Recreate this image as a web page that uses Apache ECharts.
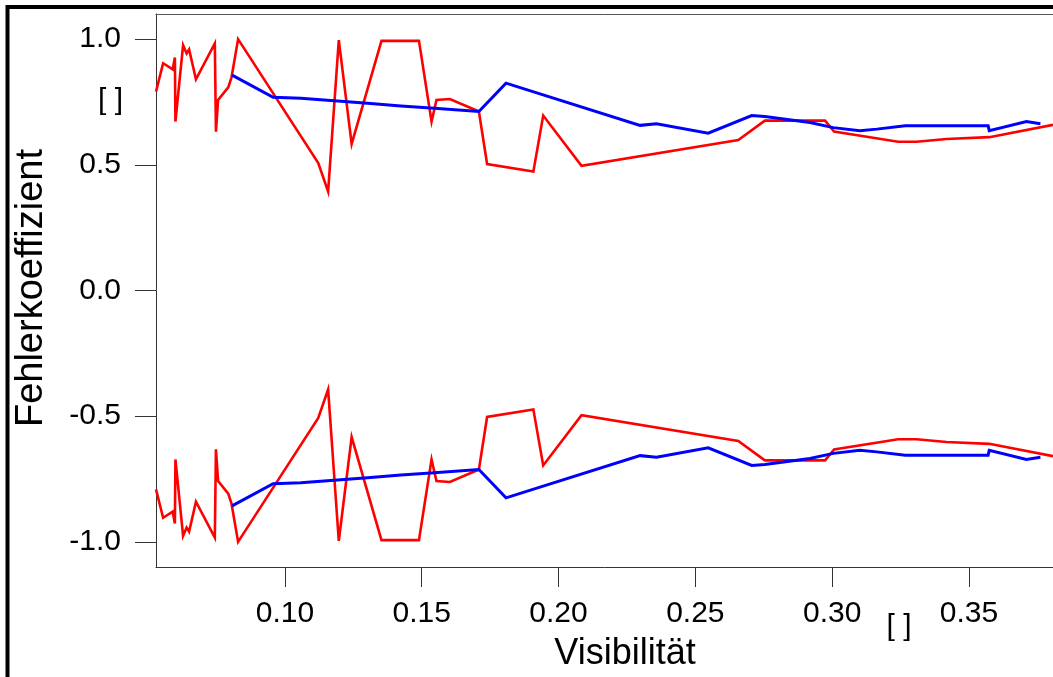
<!DOCTYPE html>
<html>
<head>
<meta charset="utf-8">
<script src="https://cdn.jsdelivr.net/npm/echarts@6/dist/echarts.min.js"></script>
<style>
  html, body { margin: 0; padding: 0; background: #fff; }
  #chart { width: 1053px; height: 677px; }
</style>
</head>
<body>
<div id="chart"></div>
<script>
// Visibility (x) and error coefficient (y) for the red curve pair
const redX = [0.0529, 0.0555, 0.0590, 0.0598, 0.0600, 0.0628, 0.0641, 0.0650, 0.0675, 0.0744,
              0.0748, 0.0756, 0.0793, 0.0805, 0.0829, 0.1122, 0.1158, 0.1197, 0.1244, 0.1353,
              0.1490, 0.1536, 0.1554, 0.1603, 0.1709, 0.1739, 0.1908, 0.1944, 0.2084, 0.2657,
              0.2754, 0.2974, 0.3007, 0.3241, 0.3308, 0.3418, 0.3574, 0.3807];
const redUpper = [0.791, 0.904, 0.880, 0.927, 0.672, 0.976, 0.943, 0.959, 0.840, 0.983,
                  0.632, 0.758, 0.808, 0.848, 1.000, 0.507, 0.394, 0.996, 0.583, 0.993,
                  0.993, 0.672, 0.758, 0.762, 0.712, 0.503, 0.473, 0.696, 0.496, 0.599,
                  0.676, 0.676, 0.632, 0.592, 0.592, 0.603, 0.610, 0.659];
const redLower = [-0.791, -0.904, -0.880, -0.927, -0.672, -0.976, -0.943, -0.959, -0.840, -0.983,
                  -0.632, -0.758, -0.808, -0.848, -1.000, -0.507, -0.394, -0.996, -0.583, -0.993,
                  -0.993, -0.672, -0.758, -0.762, -0.712, -0.503, -0.473, -0.696, -0.496, -0.599,
                  -0.676, -0.676, -0.632, -0.592, -0.592, -0.603, -0.610, -0.659];

// Visibility (x) and error coefficient (y) for the blue curve pair
const blueX = [0.0807, 0.0957, 0.1058, 0.1180, 0.1302, 0.1424, 0.1546, 0.1709, 0.1808, 0.2298,
               0.2358, 0.2547, 0.2706, 0.2754, 0.2919, 0.3004, 0.3101, 0.3163, 0.3267, 0.3570,
               0.3574, 0.3710, 0.3761];
const blueUpper = [0.857, 0.769, 0.765, 0.755, 0.745, 0.734, 0.725, 0.712, 0.825, 0.657,
                   0.663, 0.626, 0.696, 0.692, 0.668, 0.648, 0.636, 0.642, 0.655, 0.655,
                   0.636, 0.672, 0.663];
const blueLower = [-0.857, -0.769, -0.765, -0.755, -0.745, -0.734, -0.725, -0.712, -0.825, -0.657,
                   -0.663, -0.626, -0.696, -0.692, -0.668, -0.648, -0.636, -0.642, -0.655, -0.655,
                   -0.636, -0.672, -0.663];

// Axis ticks and ranges
const xTicks = [0.10, 0.15, 0.20, 0.25, 0.30, 0.35];
const yTicks = [-1.0, -0.5, 0.0, 0.5, 1.0];
const xRange = [0.0529, 0.3807];
const yRange = [-1.1, 1.1];

const FONT = '"Liberation Sans", Arial, Helvetica, sans-serif';
const AXIS_COLOR = '#333';

function pairs(xs, ys) {
  return xs.map((x, i) => [x, ys[i]]);
}

function lineSeries(name, xs, ys, color, width, z) {
  return {
    name: name,
    type: 'line',
    data: pairs(xs, ys),
    showSymbol: false,
    symbol: 'none',
    smooth: false,
    lineStyle: { color: color, width: width, join: 'miter' },
    emphasis: { disabled: true },
    z: z
  };
}

const chart = echarts.init(document.getElementById('chart'), null, { renderer: 'canvas' });

chart.setOption({
  animation: false,
  backgroundColor: '#ffffff',
  grid: { left: 156, right: 0, top: 14, bottom: 110 },
  xAxis: [
    {
      type: 'value',
      position: 'bottom',
      min: xRange[0],
      max: xRange[1],
      axisLine: { show: true, onZero: false, lineStyle: { color: AXIS_COLOR, width: 1 } },
      axisTick: { show: true, length: 20, customValues: xTicks, lineStyle: { color: AXIS_COLOR, width: 1 } },
      axisLabel: {
        customValues: xTicks,
        formatter: v => v.toFixed(2),
        margin: 32,
        fontSize: 30,
        fontFamily: FONT,
        color: '#000'
      },
      splitLine: { show: false }
    },
    {
      type: 'value',
      position: 'top',
      min: xRange[0],
      max: xRange[1],
      axisLine: { show: true, onZero: false, lineStyle: { color: '#555', width: 1 } },
      axisTick: { show: false },
      axisLabel: { show: false },
      splitLine: { show: false }
    }
  ],
  yAxis: {
    type: 'value',
    min: yRange[0],
    max: yRange[1],
    axisLine: { show: true, onZero: false, lineStyle: { color: AXIS_COLOR, width: 1 } },
    axisTick: { show: true, length: 21, customValues: yTicks, lineStyle: { color: AXIS_COLOR, width: 1 } },
    axisLabel: {
      customValues: yTicks,
      formatter: v => v.toFixed(1),
      margin: 35,
      fontSize: 30,
      fontFamily: FONT,
      color: '#000',
      padding: [3, 0, 0, 0]
    },
    splitLine: { show: false }
  },
  series: [
    lineSeries('rot oben', redX, redUpper, '#ff0000', 2.6, 2),
    lineSeries('rot unten', redX, redLower, '#ff0000', 2.6, 2),
    lineSeries('blau oben', blueX, blueUpper, '#0000ff', 3, 3),
    lineSeries('blau unten', blueX, blueLower, '#0000ff', 3, 3)
  ],
  graphic: [
    {
      type: 'rect',
      silent: true,
      shape: { x: 7.5, y: 7, width: 1300, height: 900 },
      style: { fill: 'none', stroke: '#000', lineWidth: 4 }
    },
    {
      type: 'text',
      silent: true,
      x: 31.5,
      y: 288,
      rotation: Math.PI / 2,
      style: {
        text: 'Fehlerkoeffizient',
        fontSize: 38,
        fontFamily: FONT,
        fill: '#000',
        align: 'center',
        verticalAlign: 'middle'
      }
    },
    {
      type: 'text',
      silent: true,
      x: 625,
      y: 654,
      style: {
        text: 'Visibilität',
        fontSize: 36,
        fontFamily: FONT,
        fill: '#000',
        align: 'center',
        verticalAlign: 'middle'
      }
    },
    {
      type: 'text',
      silent: true,
      x: 110.5,
      y: 101,
      style: {
        text: '[ ]',
        fontSize: 30,
        fontFamily: FONT,
        fill: '#000',
        align: 'center',
        verticalAlign: 'middle'
      }
    },
    {
      type: 'text',
      silent: true,
      x: 899,
      y: 626.5,
      style: {
        text: '[ ]',
        fontSize: 30,
        fontFamily: FONT,
        fill: '#000',
        align: 'center',
        verticalAlign: 'middle'
      }
    }
  ]
});
</script>
</body>
</html>
